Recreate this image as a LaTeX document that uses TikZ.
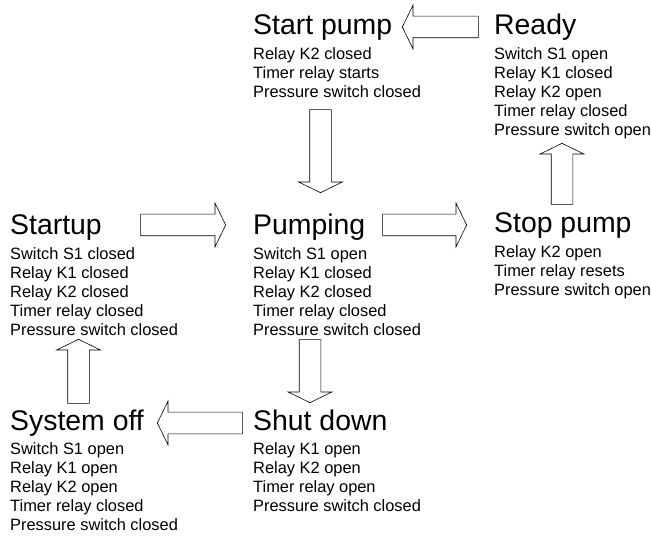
\documentclass[tikz,border=0pt]{standalone}
\usepackage{fontspec}
\setmainfont{Liberation Sans}
\usetikzlibrary{shapes.arrows, positioning}

\tikzset{
  state/.style={inner sep=0pt, anchor=base west, font=\fontsize{28.4}{32}\selectfont, text height=20pt, text depth=6pt},
  info/.style={inner sep=0pt, align=left, font=\fontsize{16.4}{19}\selectfont},
  barrow/.style={draw, single arrow, single arrow head extend=11pt, single arrow tip angle=128,
    inner xsep=0pt, inner ysep=10.5pt, minimum width=0pt, anchor=tip, line width=0.6pt}
}

\begin{document}
\begin{tikzpicture}[x=1pt, y=-1pt]
	\useasboundingbox[fill=white] (0,0) rectangle (651,537);
	% top row
	\node[state] (startpump) at (253,35) {Start pump};
		\node[info, below right=6.6pt and 0pt of startpump.south west] (startpumpinfo) {Relay K2 closed\\Timer relay starts\\Pressure switch closed};
	\node[state] (ready) at (494,35) {Ready};
		\node[info, below right=6.6pt and 0pt of ready.south west] (readyinfo) {Switch S1 open\\Relay K1 closed\\Relay K2 open\\Timer relay closed\\Pressure switch open};
	% middle row
	\node[state] (startup) at (10,235) {Startup};
		\node[info, below right=6.6pt and 0pt of startup.south west] (startupinfo) {Switch S1 closed\\Relay K1 closed\\Relay K2 closed\\Timer relay closed\\Pressure switch closed};
	\node[state] (pumping) at (253,235) {Pumping};
		\node[info, below right=6.6pt and 0pt of pumping.south west] (pumpinginfo) {Switch S1 open\\Relay K1 closed\\Relay K2 closed\\Timer relay closed\\Pressure switch closed};
	\node[state] (stoppump) at (494,233) {Stop pump};
		\node[info, below right=6.6pt and 0pt of stoppump.south west] (stoppumpinfo) {Relay K2 open\\Timer relay resets\\Pressure switch open};
	% bottom row
	\node[state] (systemoff) at (10,430) {System off};
		\node[info, below right=6.6pt and 0pt of systemoff.south west] (systemoffinfo) {Switch S1 open\\Relay K1 open\\Relay K2 open\\Timer relay closed\\Pressure switch closed};
	\node[state] (shutdown) at (253,430) {Shut down};
		\node[info, below right=6.6pt and 0pt of shutdown.south west] (shutdowninfo) {Relay K1 open\\Relay K2 open\\Timer relay open\\Pressure switch closed};
	% block arrows
	\node[barrow, rotate=180, minimum height=76pt] (readytostart) at (402,27) {};
	\node[barrow, rotate=-90, minimum height=83pt] (starttopumping) at (320.5,193) {};
	\node[barrow, minimum height=85pt] (startuptopumping) at (226,225) {};
	\node[barrow, minimum height=84pt] (pumpingtostop) at (467,225) {};
	\node[barrow, rotate=90, minimum height=61pt] (stoptoready) at (562,143) {};
	\node[barrow, rotate=-90, minimum height=63pt] (pumpingtoshut) at (310,403) {};
	\node[barrow, rotate=180, minimum height=85pt] (shuttooff) at (157,423) {};
	\node[barrow, rotate=90, minimum height=64pt] (offtostartup) at (78.5,339) {};
\end{tikzpicture}
\end{document}
